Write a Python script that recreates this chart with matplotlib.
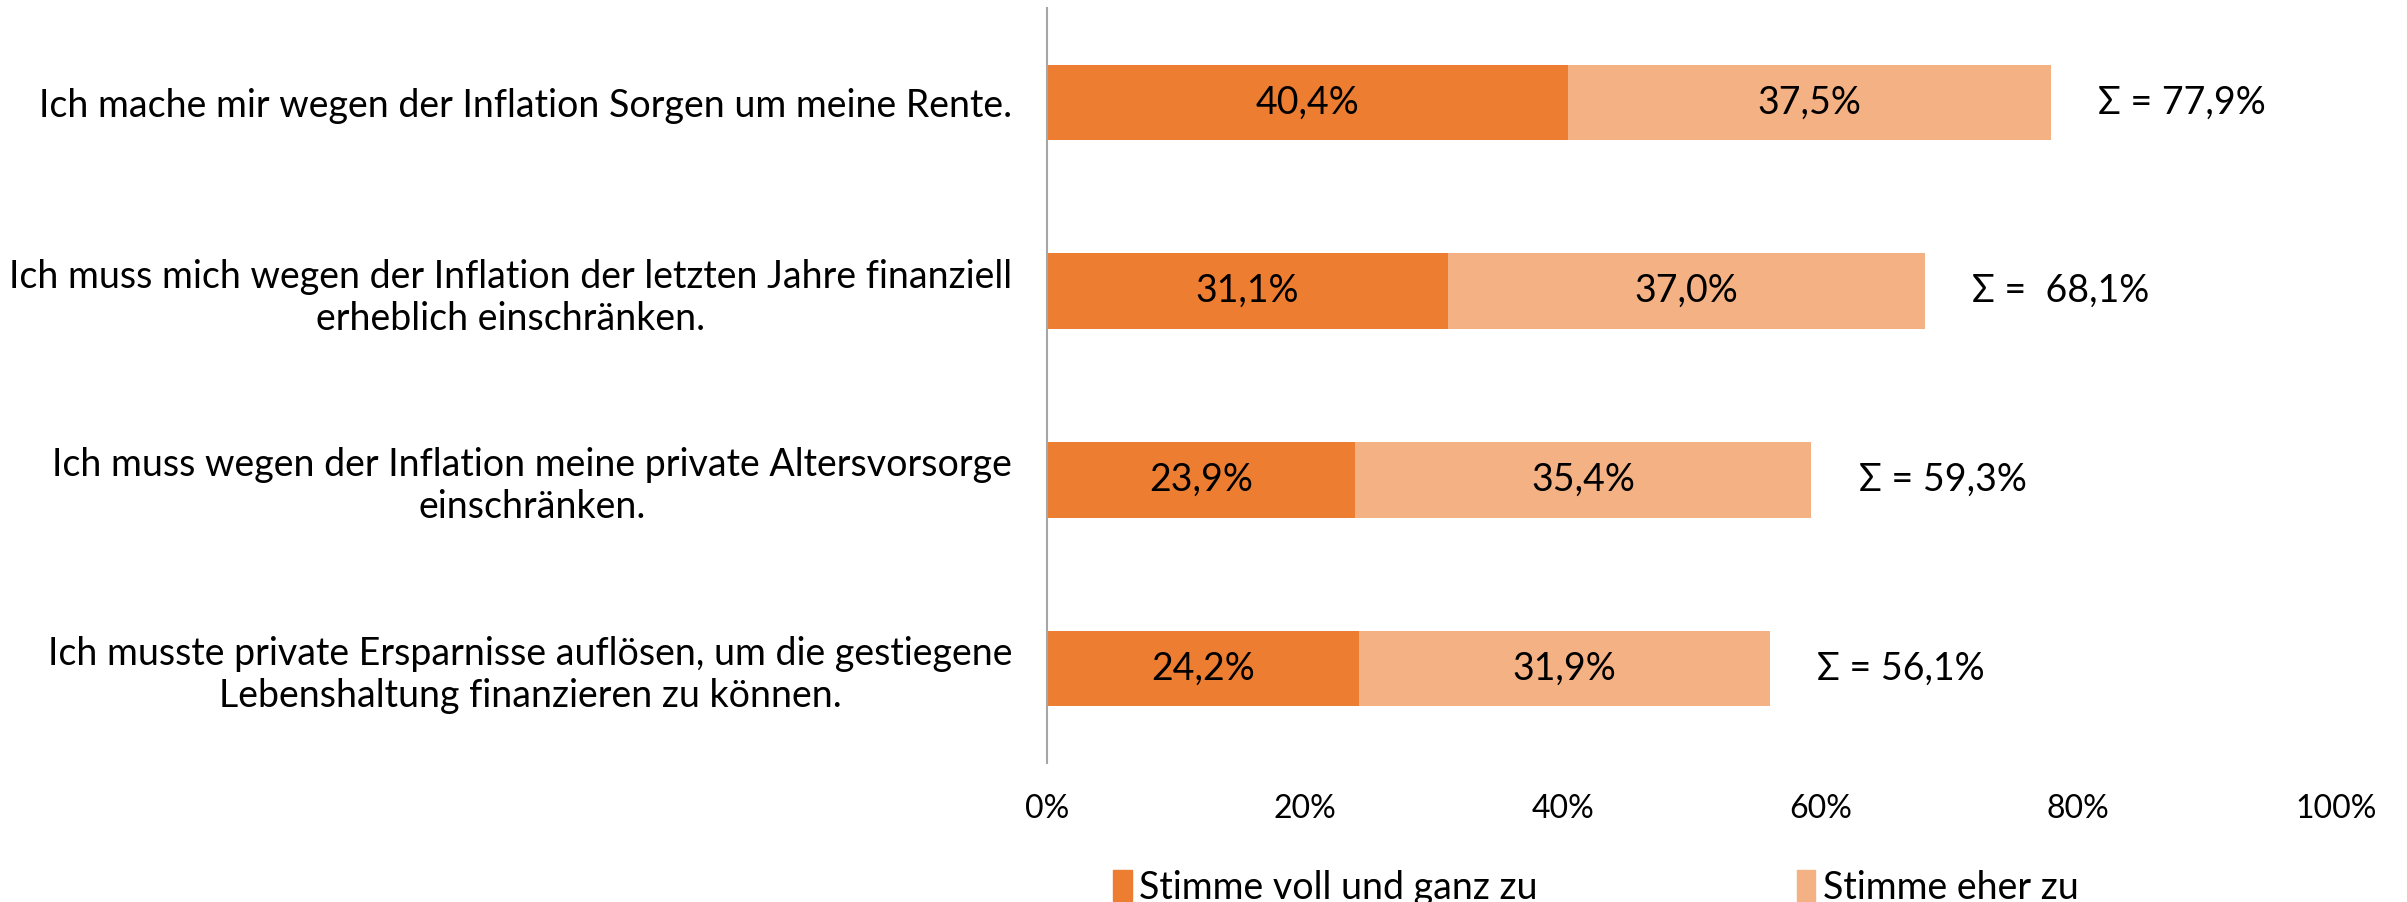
import numpy as np
from matplotlib import pyplot as plt
from matplotlib.patches import Patch

plt.rcParams['font.family'] = ['Lato', 'DejaVu Sans']

categories = [
    'Ich mache mir wegen der Inflation Sorgen um meine Rente.',
    'Ich muss mich wegen der Inflation der letzten Jahre finanziell\nerheblich einschränken.',
    'Ich muss wegen der Inflation meine private Altersvorsorge\neinschränken.',
    'Ich musste private Ersparnisse auflösen, um die gestiegene\nLebenshaltung finanzieren zu können.',
]
voll = np.array([40.4, 31.1, 23.9, 24.2])
eher = np.array([37.5, 37.0, 35.4, 31.9])
sum_labels = ['Σ = 77,9%', 'Σ =  68,1%', 'Σ = 59,3%', 'Σ = 56,1%']
series_names = ['Stimme voll und ganz zu', 'Stimme eher zu']
ticks = [0, 20, 40, 60, 80, 100]

c_voll = '#ED7D31'
c_eher = '#F4B183'

if __name__ == '__main__':
    fig = plt.figure(figsize=(24.07, 9.02), dpi=100)
    ax = fig.add_axes([0.435, 0.154, 0.5355, 0.837])

    y = np.arange(len(categories))
    ax.barh(y, voll, height=0.4, color=c_voll)
    ax.barh(y, eher, left=voll, height=0.4, color=c_eher)

    for i in range(len(categories)):
        ax.text(voll[i] / 2, y[i], f'{voll[i]:.1f}%'.replace('.', ','),
                ha='center', va='center', fontsize=27)
        ax.text(voll[i] + eher[i] / 2, y[i], f'{eher[i]:.1f}%'.replace('.', ','),
                ha='center', va='center', fontsize=27)
        ax.annotate(sum_labels[i], (voll[i] + eher[i], y[i]), xytext=(34, 0),
                    textcoords='offset points', ha='left', va='center', fontsize=27)

    ax.set_xlim(0, 100)
    ax.set_ylim(3.5, -0.5)
    ax.set_xticks(ticks)
    ax.set_xticklabels([f'{t}%' for t in ticks], fontsize=23)
    ax.set_yticks(y)
    ax.set_yticklabels(categories, fontsize=27, ha='right', multialignment='center')
    ax.tick_params(axis='both', length=0)
    ax.tick_params(axis='x', pad=22)
    ax.tick_params(axis='y', pad=25)
    for s in ['top', 'right', 'bottom']:
        ax.spines[s].set_visible(False)
    ax.spines['left'].set_color('#A6A6A6')
    ax.spines['left'].set_linewidth(1.5)

    handles = [Patch(color=c_voll), Patch(color=c_eher)]
    fig.legend(handles, series_names, loc='center', bbox_to_anchor=(0.663, 0.016),
               ncol=2, frameon=False, fontsize=27, handlelength=0.5, handleheight=0.9,
               handletextpad=0.2, columnspacing=6.9)

    fig.savefig('out.png', dpi=100)
